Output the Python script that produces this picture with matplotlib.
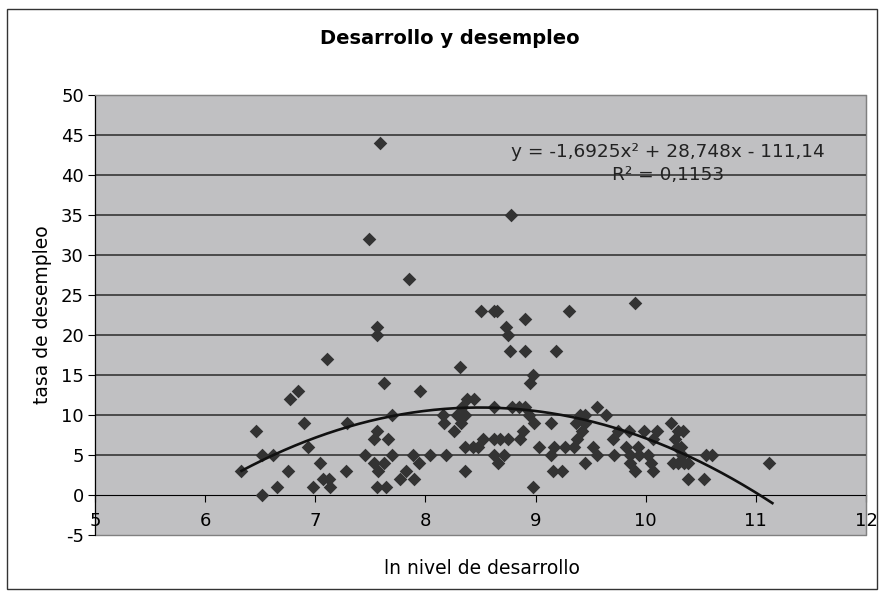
import numpy as np
import matplotlib
matplotlib.use('Agg')
import matplotlib.pyplot as plt
from matplotlib.patches import Rectangle

plt.rcParams['axes.unicode_minus'] = False

# ln nivel de desarrollo vs tasa de desempleo
ln_desarrollo = [6.33, 6.46, 6.52, 6.52, 6.62, 6.65, 6.75, 6.77, 6.84, 6.90,
                 6.93, 6.98, 7.04, 7.07, 7.11, 7.12, 7.13, 7.28, 7.29, 7.45,
                 7.49, 7.53, 7.53, 7.56, 7.56, 7.56, 7.57, 7.56, 7.59, 7.62,
                 7.62, 7.64, 7.66, 7.70, 7.70, 7.77, 7.82, 7.85, 7.89, 7.90,
                 7.94, 7.95, 8.04, 8.16, 8.17, 8.19, 8.26, 8.29, 8.31, 8.32,
                 8.33, 8.36, 8.36, 8.36, 8.38, 8.43, 8.44, 8.48, 8.50, 8.52,
                 8.62, 8.65, 8.62, 8.62, 8.62, 8.66, 8.68, 8.71, 8.73, 8.75,
                 8.75, 8.77, 8.78, 8.79, 8.85, 8.86, 8.89, 8.90, 8.90, 8.90,
                 8.94, 8.95, 8.98, 8.99, 8.98, 9.03, 9.14, 9.14, 9.16, 9.17,
                 9.19, 9.24, 9.27, 9.30, 9.35, 9.37, 9.38, 9.40, 9.42, 9.45,
                 9.45, 9.45, 9.52, 9.56, 9.56, 9.64, 9.70, 9.71, 9.75, 9.82,
                 9.85, 9.86, 9.86, 9.90, 9.90, 9.93, 9.94, 9.98, 10.02, 10.05,
                 10.07, 10.07, 10.10, 10.23, 10.25, 10.27, 10.28, 10.29, 10.29, 10.32,
                 10.33, 10.34, 10.35, 10.38, 10.38, 10.53, 10.55, 10.60, 11.12]
desempleo = [3, 8, 5, 0, 5, 1, 3, 12, 13, 9,
             6, 1, 4, 2, 17, 2, 1, 3, 9, 5,
             32, 7, 4, 8, 21, 20, 3, 1, 44, 14,
             4, 1, 7, 10, 5, 2, 3, 27, 5, 2,
             4, 13, 5, 10, 9, 5, 8, 10, 16, 9,
             11, 10, 6, 3, 12, 6, 12, 6, 23, 7,
             23, 23, 11, 7, 5, 4, 7, 5, 21, 20,
             7, 18, 35, 11, 11, 7, 8, 22, 18, 11,
             10, 14, 15, 9, 1, 6, 9, 5, 3, 6,
             18, 3, 6, 23, 6, 9, 7, 10, 8, 10,
             9, 4, 6, 11, 5, 10, 7, 5, 8, 6,
             8, 5, 4, 24, 3, 6, 5, 8, 5, 4,
             7, 3, 8, 9, 4, 7, 6, 8, 4, 6,
             5, 8, 4, 4, 2, 2, 5, 5, 4]

# polynomial trendline shown on the chart
coefs = [-1.6925, 28.748, -111.14]
r2 = 0.1153

fig = plt.figure(figsize=(8.83, 5.95), dpi=100)
ax = fig.add_axes([95/883, 1-535/595, (866-95)/883, (535-95)/595])

ax.set_facecolor('#c0c0c2')
ax.set_xlim(5, 12)
ax.set_ylim(-5, 50)
ax.set_xticks(range(5, 13))
ax.set_yticks(range(-5, 51, 5))

for yv in range(5, 50, 5):
    ax.axhline(yv, color='#2a2a2a', lw=1.1, zorder=1)

ax.scatter(ln_desarrollo, desempleo, marker='D', s=48, color='#333333', zorder=3, linewidths=0)

xs = np.linspace(min(ln_desarrollo), 11.15, 200)
ax.plot(xs, np.polyval(coefs, xs), color='#111111', lw=1.9, zorder=4)

# spines: y axis at left, x axis crossing at 0, gray plot-area frame
for s in ['top', 'right']:
    ax.spines[s].set_color('#808080')
ax.spines['left'].set_color('black')
ax.spines['bottom'].set_position(('data', 0))
ax.spines['bottom'].set_color('black')
ax.spines['bottom'].set_zorder(2)
ax.add_patch(Rectangle((0, 0), 1, 1, transform=ax.transAxes, fill=False,
                       edgecolor='#808080', lw=1, zorder=0, clip_on=False))

ax.tick_params(axis='y', direction='out', length=5, labelsize=13, pad=3)
ax.tick_params(axis='x', direction='out', length=5, labelsize=13, pad=7)

eq = 'y = -1,6925x² + 28,748x - 111,14'
ax.text(0.743, 0.870, eq, transform=ax.transAxes,
        ha='center', va='center', fontsize=13.3, color='#222222', zorder=5)
ax.text(0.743, 0.818, f'R² = {str(r2).replace(".", ",")}', transform=ax.transAxes,
        ha='center', va='center', fontsize=13.3, color='#222222', zorder=5)

fig.text(450/883, 1-38/595, 'Desarrollo y desempleo', ha='center', va='center',
         fontsize=14, fontweight='bold')
fig.text(482/883, 1-568/595, 'ln nivel de desarrollo', ha='center', va='center', fontsize=13.5)
fig.text(43/883, 1-315/595, 'tasa de desempleo', ha='center', va='center',
         rotation=90, fontsize=13.5)

fig.patches.append(Rectangle((7/883, 1-589/595), 870/883, 580/595, transform=fig.transFigure,
                             fill=False, edgecolor='#333333', lw=1))

plt.savefig('out.png', dpi=100)
